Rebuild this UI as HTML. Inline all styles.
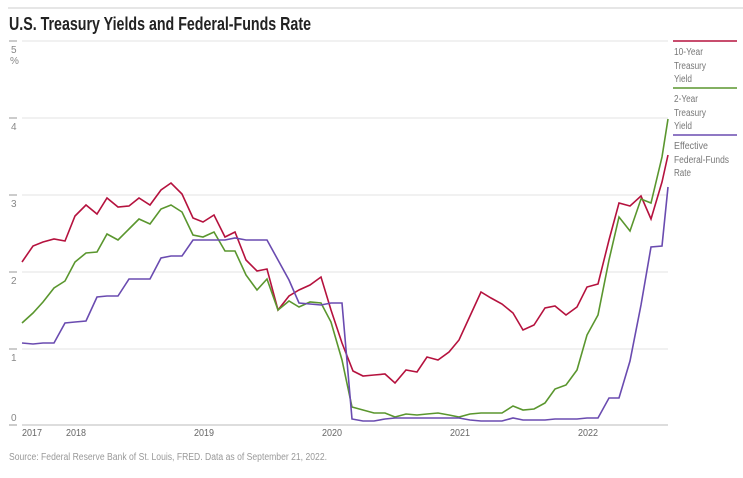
<!DOCTYPE html>
<html><head><meta charset="utf-8"><style>
body{margin:0;background:#fff;width:743px;height:473px;overflow:hidden;font-family:"Liberation Sans",sans-serif}
</style></head><body>
<svg width="743" height="473" xmlns="http://www.w3.org/2000/svg" font-family="Liberation Sans, sans-serif">
<line x1="8" y1="8" x2="743" y2="8" stroke="#ccc" stroke-width="1"/>
<text x="9" y="30" font-size="18" font-weight="bold" fill="#222" textLength="302" lengthAdjust="spacingAndGlyphs">U.S. Treasury Yields and Federal-Funds Rate</text>
<g stroke="#e3e3e3" stroke-width="1">
<line x1="22" y1="41" x2="668" y2="41"/><line x1="22" y1="118" x2="668" y2="118"/>
<line x1="22" y1="195" x2="668" y2="195"/><line x1="22" y1="272" x2="668" y2="272"/>
<line x1="22" y1="349" x2="668" y2="349"/>
</g>
<line x1="22" y1="425" x2="668" y2="425" stroke="#bbb"/>
<g stroke="#999"><line x1="9" y1="41" x2="17" y2="41"/><line x1="9" y1="118" x2="17" y2="118"/><line x1="9" y1="195" x2="17" y2="195"/><line x1="9" y1="272" x2="17" y2="272"/><line x1="9" y1="349" x2="17" y2="349"/><line x1="9" y1="425" x2="17" y2="425"/></g>
<g font-size="10" fill="#888">
<text x="11" y="53">5</text><text x="10" y="64">%</text>
<text x="11" y="130">4</text><text x="11" y="207">3</text><text x="11" y="284">2</text><text x="11" y="361">1</text><text x="11" y="421">0</text>
</g>
<g font-size="10" fill="#666">
<text x="22" y="436" textLength="20" lengthAdjust="spacingAndGlyphs">2017</text><text x="66" y="436" textLength="20" lengthAdjust="spacingAndGlyphs">2018</text><text x="194" y="436" textLength="20" lengthAdjust="spacingAndGlyphs">2019</text><text x="322" y="436" textLength="20" lengthAdjust="spacingAndGlyphs">2020</text><text x="450" y="436" textLength="20" lengthAdjust="spacingAndGlyphs">2021</text><text x="578" y="436" textLength="20" lengthAdjust="spacingAndGlyphs">2022</text>
</g>
<text x="9" y="460" font-size="10" fill="#999" textLength="318" lengthAdjust="spacingAndGlyphs">Source: Federal Reserve Bank of St. Louis, FRED. Data as of September 21, 2022.</text>
<polyline fill="none" stroke="#b5123e" stroke-width="1.6" points="22,262 33,246 43,242 54,239 65,241 75,216 86,205 97,214 107,198 118,207 129,206 139,198 150,205 161,190 171,183 182,194 193,218 203,222 214,215 225,237 235,232 246,260 257,271 267,269 278,310 289,296 299,290 310,285 321,277 331,310 342,343 353,371 363,376 374,375 385,374 395,383 406,370 417,372 427,357 438,360 449,352 459,340 470,316 481,292 491,298 502,304 513,313 523,330 534,325 545,308 555,306 566,315 577,307 587,287 598,284 609,240 619,203 630,206 641,196 651,219 662,182 668,155"/>
<polyline fill="none" stroke="#5a962e" stroke-width="1.6" points="22,323 33,313 43,302 54,288 65,281 75,262 86,253 97,252 107,234 118,240 129,229 139,219 150,224 161,209 171,205 182,212 193,235 203,237 214,232 225,251 235,251 246,275 257,290 267,279 278,310 289,301 299,307 310,302 321,303 331,322 342,360 352,407 363,410 374,413 385,413 395,417 406,414 417,415 427,414 438,413 449,415 459,417 470,414 481,413 491,413 502,413 513,406 523,410 534,409 545,403 555,389 566,385 577,370 587,335 598,315 609,260 619,217 630,231 641,199 651,203 662,157 668,119"/>
<polyline fill="none" stroke="#6a4bb0" stroke-width="1.6" points="22,343 33,344 43,343 54,343 65,323 75,322 86,321 97,297 107,296 118,296 129,279 139,279 150,279 161,258 171,256 182,256 193,240 203,240 214,240 225,240 235,238 246,240 257,240 267,240 278,260 289,280 299,303 310,304 321,305 331,303 342,303 352,419 363,421 374,421 385,419 395,418 406,418 417,418 427,418 438,418 449,418 459,418 470,420 481,421 491,421 502,421 513,418 523,420 534,420 545,420 555,419 566,419 577,419 587,418 598,418 609,398 619,398 630,361 641,305 651,247 662,246 668,187"/>
<line x1="673" y1="41" x2="737" y2="41" stroke="#b5123e" stroke-width="1.5"/>
<line x1="673" y1="88" x2="737" y2="88" stroke="#5a962e" stroke-width="1.5"/>
<line x1="673" y1="135" x2="737" y2="135" stroke="#6a4bb0" stroke-width="1.5"/>
<g font-size="10" fill="#777">
<text x="674" y="55" textLength="29" lengthAdjust="spacingAndGlyphs">10-Year</text><text x="674" y="69" textLength="32" lengthAdjust="spacingAndGlyphs">Treasury</text><text x="674" y="82" textLength="18" lengthAdjust="spacingAndGlyphs">Yield</text>
<text x="674" y="102" textLength="24" lengthAdjust="spacingAndGlyphs">2-Year</text><text x="674" y="116" textLength="32" lengthAdjust="spacingAndGlyphs">Treasury</text><text x="674" y="129" textLength="18" lengthAdjust="spacingAndGlyphs">Yield</text>
<text x="674" y="149" textLength="34" lengthAdjust="spacingAndGlyphs">Effective</text><text x="674" y="163" textLength="55" lengthAdjust="spacingAndGlyphs">Federal-Funds</text><text x="674" y="176" textLength="17" lengthAdjust="spacingAndGlyphs">Rate</text>
</g>
</svg>
</body></html>
